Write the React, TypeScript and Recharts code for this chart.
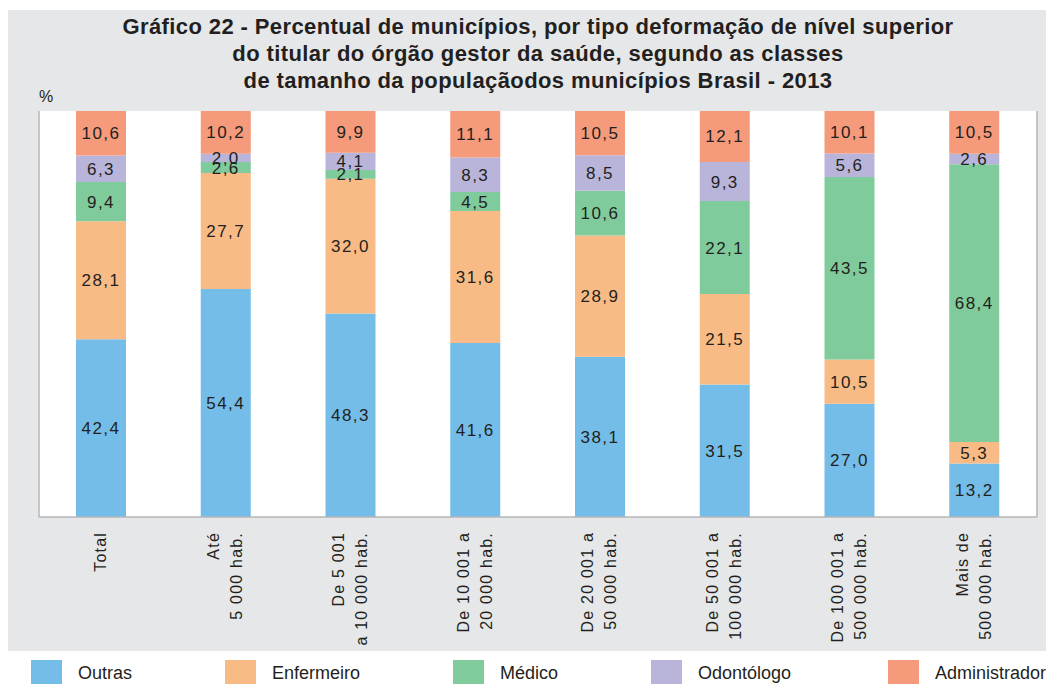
import { BarChart, Bar, XAxis, YAxis, LabelList } from 'recharts';

const categories = [
  'Total',
  'Até\n5 000 hab.',
  'De 5 001\na 10 000 hab.',
  'De 10 001 a\n20 000 hab.',
  'De 20 001 a\n50 000 hab.',
  'De 50 001 a\n100 000 hab.',
  'De 100 001 a\n500 000 hab.',
  'Mais de\n500 000 hab.',
];

const outras = [42.4, 54.4, 48.3, 41.6, 38.1, 31.5, 27.0, 13.2];
const enfermeiro = [28.1, 27.7, 32.0, 31.6, 28.9, 21.5, 10.5, 5.3];
const medico = [9.4, 2.6, 2.1, 4.5, 10.6, 22.1, 43.5, 68.4];
const odontologo = [6.3, 2.0, 4.1, 8.3, 8.5, 9.3, 5.6, 2.6];
const administrador = [10.6, 10.2, 9.9, 11.1, 10.5, 12.1, 10.1, 10.5];

const series = [
  { key: 'outras', name: 'Outras', color: '#74bde8', values: outras },
  { key: 'enfermeiro', name: 'Enfermeiro', color: '#f9bb85', values: enfermeiro },
  { key: 'medico', name: 'Médico', color: '#80cb9b', values: medico },
  { key: 'odontologo', name: 'Odontólogo', color: '#b9b5da', values: odontologo },
  { key: 'administrador', name: 'Administrador', color: '#f59a7b', values: administrador },
];

const legendLeft = [23, 217, 445, 643, 880];

const data = categories.map((cat, i) => {
  const row: Record<string, string | number> = { cat };
  series.forEach((s) => {
    row[s.key] = s.values[i];
  });
  return row;
});

const fmt = (v: any) => Number(v).toFixed(1).replace('.', ',');

const CategoryTick = ({ x, y, payload }: any) => {
  const lines = String(payload.value).split('\n');
  const start = lines.length > 1 ? -7 : 5;
  return (
    <g transform={`translate(${x},${y})`}>
      <text
        transform="rotate(-90)"
        textAnchor="end"
        fill="#231f20"
        fontSize={16}
        letterSpacing={1.2}
        fontFamily="'Liberation Sans', Arial, sans-serif"
      >
        {lines.map((l, i) => (
          <tspan key={i} x={-7} y={start + i * 23}>
            {l}
          </tspan>
        ))}
      </text>
    </g>
  );
};

const App = () => {
  return (
    <div style={{ position: 'relative', width: 1046, height: 676, marginTop: 2, fontFamily: "'Liberation Sans', Arial, sans-serif" }}>
      <div style={{ position: 'absolute', left: 0, top: 0, width: 1046, height: 641, background: '#e6e7e8' }} />
      <div
        style={{
          position: 'absolute',
          left: 0,
          top: 3,
          width: 1060,
          textAlign: 'center',
          fontWeight: 'bold',
          fontSize: 22,
          letterSpacing: 0.4,
          lineHeight: '27px',
          color: '#231f20',
        }}
      >
        <div>Gráfico 22 - Percentual de municípios, por tipo deformação de nível superior</div>
        <div>do titular do órgão gestor da saúde, segundo as classes</div>
        <div>de tamanho da populaçãodos municípios Brasil - 2013</div>
      </div>
      <div style={{ position: 'absolute', left: 31, top: 78, fontSize: 16, color: '#231f20' }}>%</div>
      <div style={{ position: 'absolute', left: 0, top: 0 }}>
        <BarChart
          width={1046}
          height={641}
          data={data}
          stackOffset="expand"
          barSize={50}
          margin={{ top: 101, right: 0, bottom: 0, left: 0 }}
        >
          <rect x={31} y={101} width={998} height={406} fill="#ffffff" />
          <XAxis
            dataKey="cat"
            height={134}
            interval={0}
            tickLine={false}
            axisLine={{ stroke: '#b5b6b8', strokeWidth: 1.5 }}
            tick={<CategoryTick />}
          />
          <XAxis xAxisId="top" dataKey="cat" orientation="top" height={0} tick={false} tickLine={false} axisLine={{ stroke: '#b5b6b8', strokeWidth: 1.5 }} />
          <YAxis width={31} domain={[0, 1]} tick={false} tickLine={false} axisLine={{ stroke: '#b5b6b8', strokeWidth: 1.5 }} />
          <YAxis yAxisId="right" orientation="right" width={17} tick={false} tickLine={false} axisLine={{ stroke: '#b5b6b8', strokeWidth: 1.5 }} />
          {series.map((s) => (
            <Bar key={s.key} dataKey={s.key} name={s.name} stackId="a" fill={s.color} isAnimationActive={false}>
              <LabelList
                dataKey={s.key}
                position="center"
                formatter={fmt}
                fill="#231f20"
                fontSize={17}
                letterSpacing={1.5}
              />
            </Bar>
          ))}
        </BarChart>
      </div>
      {series.map((s, i) => (
        <div key={s.key} style={{ position: 'absolute', left: legendLeft[i], top: 650, display: 'flex', alignItems: 'center', whiteSpace: 'nowrap' }}>
          <div style={{ width: 31, height: 26, background: s.color }} />
          <span style={{ marginLeft: 16, fontSize: 18, color: '#231f20' }}>{s.name}</span>
        </div>
      ))}
    </div>
  );
};

export default App;
